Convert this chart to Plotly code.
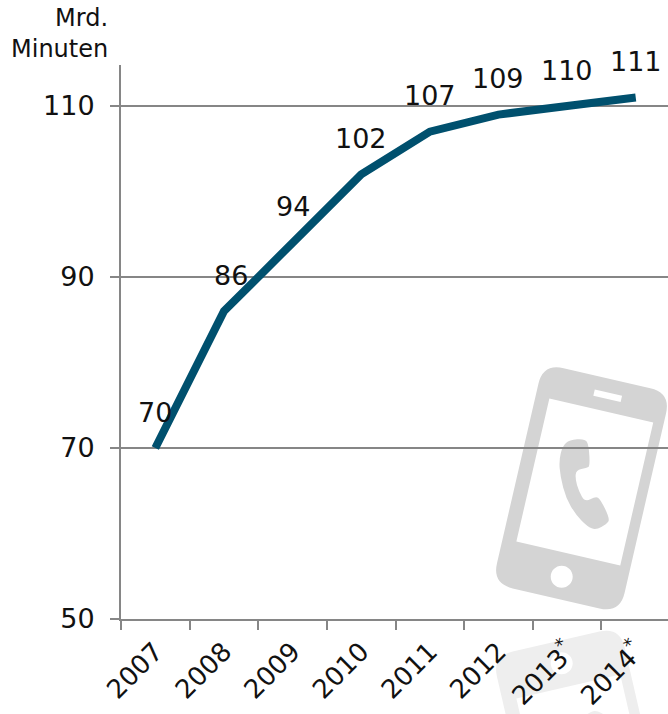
import math
import plotly.graph_objects as go

W, H = 668, 714
years = ["2007", "2008", "2009", "2010", "2011", "2012", "2013<sup>*</sup>", "2014<sup>*</sup>"]
minutes = [70, 86, 94, 102, 107, 109, 110, 111]
label_xshift = [0, 7, 0, 0, 0, 0, 0, 0]
y_ticks = [50, 70, 90, 110]
unit_label = ["Mrd.", "Minuten"]

FONT = "DejaVu Sans"
INK = "#111111"
GREY = "#868686"
LINE = "#00506e"

ANG = math.radians(13)
U = (math.cos(ANG), math.sin(ANG))
V = (-math.sin(ANG), math.cos(ANG))


def px(x, y, mirror):
    if mirror:
        y = 2 * 620 - y
    return f"{x / W:.5f},{1 - y / H:.5f}"


def rrect(cx, cy, w, h, r, mirror=False):
    def p(a, b):
        return px(cx + a * U[0] + b * V[0], cy + a * U[1] + b * V[1], mirror)
    a, b = w / 2, h / 2
    if r == 0:
        return f"M{p(-a,-b)}L{p(a,-b)}L{p(a,b)}L{p(-a,b)}Z"
    return (f"M{p(-a+r,-b)}L{p(a-r,-b)}Q{p(a,-b)} {p(a,-b+r)}L{p(a,b-r)}Q{p(a,b)} {p(a-r,b)}"
            f"L{p(-a+r,b)}Q{p(-a,b)} {p(-a,b-r)}L{p(-a,-b+r)}Q{p(-a,-b)} {p(-a+r,-b)}Z")


def circle(cx, cy, r, mirror=False):
    k = 0.5523 * r
    p = lambda x, y: px(x, y, mirror)
    return (f"M{p(cx+r,cy)}C{p(cx+r,cy+k)} {p(cx+k,cy+r)} {p(cx,cy+r)}"
            f"C{p(cx-k,cy+r)} {p(cx-r,cy+k)} {p(cx-r,cy)}"
            f"C{p(cx-r,cy-k)} {p(cx-k,cy-r)} {p(cx,cy-r)}"
            f"C{p(cx+k,cy-r)} {p(cx+r,cy-k)} {p(cx+r,cy)}Z")


HANDSET = [(298, 270), (345, 266), (356, 285), (360, 348), (350, 354), (318, 360), (316, 388),
           (326, 422), (345, 457), (377, 439), (391, 447), (420, 507), (410, 522), (378, 540),
           (352, 530), (318, 495), (288, 445), (271, 380), (267, 330), (278, 288)]


def handset(mirror=False):
    pts = [(470 + x / 3, 350 + y / 3) for x, y in HANDSET]
    n = len(pts)
    mid = lambda a, b: ((a[0] + b[0]) / 2, (a[1] + b[1]) / 2)
    s = "M" + px(*mid(pts[-1], pts[0]), mirror)
    for i in range(n):
        m = mid(pts[i], pts[(i + 1) % n])
        s += f"Q{px(*pts[i], mirror)} {px(*m, mirror)}"
    return s + "Z"


def phone(mirror=False):
    return (rrect(581.5, 488.3, 131, 226, 21, mirror)
            + rrect(584.8, 482, 106.6, 146.7, 0, mirror)
            + circle(561.7, 576.7, 11, mirror)
            + rrect(607.7, 395.7, 28, 6.5, 0, mirror)
            + handset(mirror))


def shape(path, color):
    return dict(type="path", xref="paper", yref="paper", path=path, fillcolor=color,
                line=dict(width=0), layer="below")


fig = go.Figure(go.Scatter(x=years, y=minutes, mode="lines",
                           line=dict(color=LINE, width=8), hoverinfo="skip"))

annotations = [dict(x=i, y=y, text=str(y), showarrow=False, xref="x", yref="y",
                    yshift=36, xshift=s, font=dict(family=FONT, size=27, color=INK))
               for i, (y, s) in enumerate(zip(minutes, label_xshift))]
annotations += [dict(x=110 / W, y=1 - yy / H, text=t, xref="paper", yref="paper", showarrow=False,
                     xanchor="right", yanchor="middle", font=dict(family=FONT, size=24, color=INK))
                for t, yy in zip(unit_label, [18, 49])]

fig.update_layout(
    width=W, height=H,
    margin=dict(l=0, r=0, t=0, b=0),
    paper_bgcolor="white", plot_bgcolor="rgba(0,0,0,0)",
    showlegend=False,
    shapes=[shape(phone(False), "#d4d4d4"), shape(phone(True), "#eeeeee")],
    annotations=annotations,
    xaxis=dict(domain=[121 / W, 1], type="category", categoryorder="array", categoryarray=years,
               range=[-0.5, 7.47], tickson="boundaries", ticks="outside", ticklen=9, tickwidth=2,
               tickcolor=GREY, showline=True, linecolor=GREY, linewidth=2, showgrid=False,
               tickangle=-45, tickfont=dict(family=FONT, size=26, color=INK), ticklabelstandoff=5,
               automargin=False),
    yaxis=dict(domain=[1 - 619 / H, 1 - 65 / H], range=[50, 114.8], tickvals=y_ticks,
               ticks="outside", ticklen=9, tickwidth=2, tickcolor=GREY, showline=True, linecolor=GREY,
               linewidth=2, showgrid=True, gridcolor=GREY, gridwidth=2, zeroline=False,
               tickfont=dict(family=FONT, size=27, color=INK), ticklabelstandoff=10, automargin=False),
)

fig.write_html("out.html", config=dict(displayModeBar=False),
               post_script="document.body.style.margin='0';document.body.style.overflow='hidden';")
